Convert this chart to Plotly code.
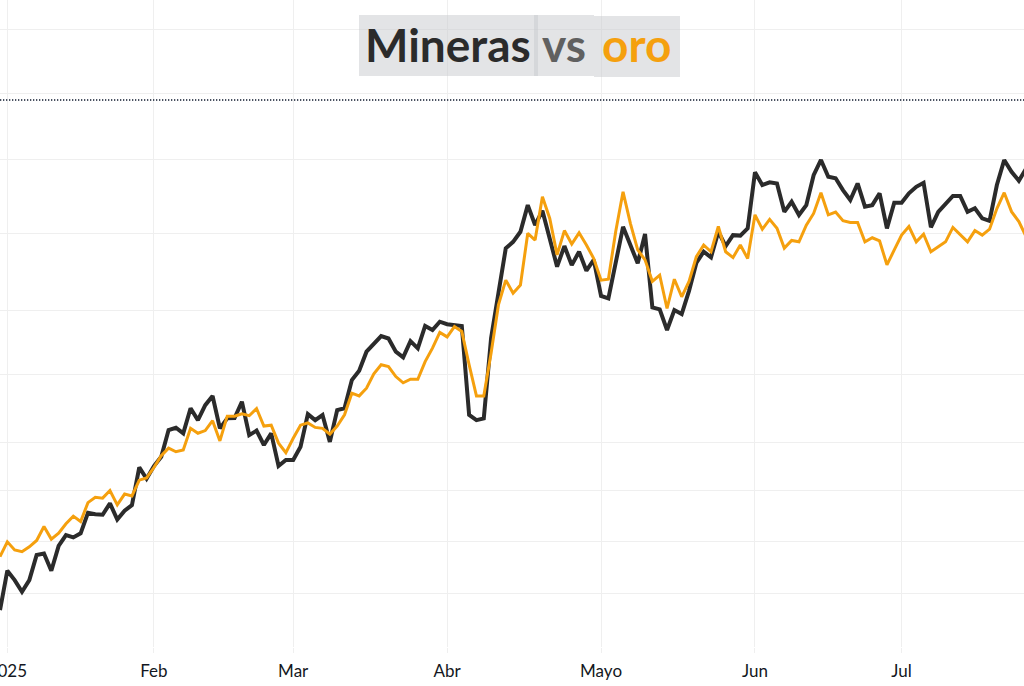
import pandas as pd
import plotly.graph_objects as go

# sesiones de mercado (NYSE) desde el 31-dic-2024
holidays = ["2025-01-01", "2025-01-09", "2025-01-20", "2025-02-17",
            "2025-04-18", "2025-05-26", "2025-06-19", "2025-07-04"]
dates = pd.bdate_range("2024-12-31", "2025-07-25", freq="C", holidays=holidays)

# oro, USD/oz (cierre)
oro = [2624, 2657, 2639, 2635, 2646, 2660, 2691, 2663, 2676, 2697,
       2714, 2702, 2744, 2756, 2754, 2771, 2739, 2763, 2759, 2794,
       2799, 2822, 2848, 2865, 2857, 2861, 2909, 2898, 2904, 2926,
       2881, 2936, 2936, 2941, 2937, 2953, 2914, 2916, 2876, 2855,
       2887, 2916, 2921, 2911, 2909, 2896, 2914, 2939, 2987, 2981,
       2998, 3030, 3050, 3046, 3024, 3010, 3018, 3018, 3057, 3087,
       3122, 3112, 3135, 3124, 3050, 2981, 2981, 3076, 3183, 3238,
       3209, 3227, 3342, 3327, 3423, 3375, 3294, 3348, 3318, 3343,
       3316, 3286, 3238, 3240, 3346, 3434, 3364, 3305, 3283, 3235,
       3249, 3175, 3240, 3201, 3235, 3290, 3316, 3301, 3357, 3301,
       3288, 3316, 3286, 3383, 3351, 3373, 3353, 3309, 3326, 3323,
       3360, 3386, 3432, 3383, 3389, 3370, 3366, 3366, 3323, 3332,
       3325, 3272, 3305, 3338, 3357, 3323, 3340, 3301, 3312, 3323,
       3355, 3340, 3323, 3348, 3338, 3351, 3397, 3432, 3390, 3368,
       3334]

# mineras (ETF GDX), USD
mineras = [33.90, 35.66, 35.24, 34.72, 35.24, 36.36, 36.43, 35.66, 36.77, 37.25,
           37.15, 37.33, 38.25, 38.18, 38.16, 38.67, 37.95, 38.34, 38.59, 40.28,
           39.77, 40.34, 40.75, 41.95, 42.05, 41.80, 42.92, 42.39, 43.06, 43.47,
           42.02, 42.47, 42.48, 43.21, 41.72, 41.92, 41.28, 41.80, 40.34, 40.61,
           40.61, 41.20, 42.66, 42.39, 42.62, 41.42, 42.84, 42.92, 44.18, 44.60,
           45.45, 45.78, 46.15, 46.04, 45.45, 45.20, 45.92, 45.60, 46.60, 46.42,
           46.79, 46.68, 46.64, 46.60, 42.62, 42.39, 42.47, 46.06, 48.07, 50.07,
           50.36, 50.81, 52.00, 51.11, 51.75, 50.44, 49.25, 50.17, 49.32, 49.92,
           49.07, 49.55, 47.94, 47.83, 49.40, 51.03, 50.22, 49.40, 50.71, 47.43,
           47.34, 46.42, 47.31, 47.13, 48.17, 49.42, 49.92, 49.67, 50.81, 50.17,
           50.66, 50.64, 50.96, 53.47, 52.90, 53.02, 52.97, 51.70, 52.15, 51.56,
           52.00, 53.34, 54.02, 53.27, 53.20, 52.67, 52.23, 52.97, 51.93, 52.00,
           52.53, 50.96, 52.11, 52.11, 52.53, 52.82, 53.00, 51.01, 51.70, 52.05,
           52.41, 52.41, 51.70, 51.86, 51.41, 51.30, 52.90, 54.02, 53.49, 53.09,
           53.64]

month_ticks = ["2025-01-02", "2025-02-03", "2025-03-03", "2025-04-01",
               "2025-05-01", "2025-06-02", "2025-07-01"]
month_labels = ["2025", "Feb", "Mar", "Abr", "Mayo", "Jun", "Jul"]

# niveles de la rejilla (escala de mineras) y linea punteada
grid_levels = [32.26, 34.62, 36.98, 39.26, 41.41, 44.45, 47.27, 50.75, 54.02, 57.01, 59.83]
dotted_level = 56.70

grid_color = "#efefef"
black = "#2b2b2b"
orange = "#f5a00e"
box_fill = "rgba(200,202,206,0.5)"

fig = go.Figure()
fig.add_trace(go.Scatter(x=dates, y=mineras, name="Mineras", mode="lines",
                         line=dict(color=black, width=4), yaxis="y"))
fig.add_trace(go.Scatter(x=dates, y=oro, name="Oro", mode="lines",
                         line=dict(color=orange, width=3), yaxis="y2"))

H = 647  # alto del area de trazado en px


def title_word(text, xc, color):
    return dict(text="<b>" + text + "</b>", x=xc / 1024, y=1 - 45 / H,
                xref="paper", yref="paper", xanchor="center", yanchor="middle",
                showarrow=False, font=dict(family="Lato", size=46, color=color))


def title_box(x0, x1, y0, y1):
    return dict(type="rect", xref="paper", yref="paper", x0=x0 / 1024, x1=x1 / 1024,
                y0=1 - y1 / H, y1=1 - y0 / H, fillcolor=box_fill, line_width=0)


fig.update_layout(
    width=1024, height=686,
    margin=dict(l=0, r=0, t=0, b=39, autoexpand=False),
    paper_bgcolor="white", plot_bgcolor="white",
    showlegend=False,
    xaxis=dict(
        type="date",
        range=["2024-12-31", "2025-07-24 16:48"],
        rangebreaks=[dict(bounds=["sat", "mon"]), dict(values=holidays)],
        tickvals=month_ticks, ticktext=month_labels,
        showgrid=True, gridcolor=grid_color, gridwidth=1,
        ticks="outside", ticklen=5, tickcolor=grid_color,
        showline=False, zeroline=False, automargin=False,
        ticklabeloverflow="allow", ticklabelstandoff=4,
        tickfont=dict(family="Lato, Open Sans, sans-serif", size=17, color="#131722"),
    ),
    yaxis=dict(
        range=[32.25, 61.17],
        tickvals=grid_levels, showticklabels=False,
        showgrid=True, gridcolor=grid_color, gridwidth=1,
        zeroline=False, showline=False, ticks="", automargin=False,
    ),
    yaxis2=dict(
        range=[2423.5, 3859.9], overlaying="y", visible=False, showgrid=False,
    ),
    shapes=[
        dict(type="line", xref="paper", x0=0, x1=1, yref="y", y0=dotted_level, y1=dotted_level,
             line=dict(color="#0f1a2e", width=1.6, dash="1.3px,1.7px")),
        title_box(359, 538, 15, 76),
        title_box(534, 594, 15, 76),
        title_box(594, 680, 16, 77),
    ],
    annotations=[
        title_word("Mineras", 448, "#2b2b2b"),
        title_word("vs", 564, "#606060"),
        title_word("oro", 636, orange),
    ],
)

fig.write_html("out.html", config={"displayModeBar": False},
               post_script="document.body.style.margin='0px';")
